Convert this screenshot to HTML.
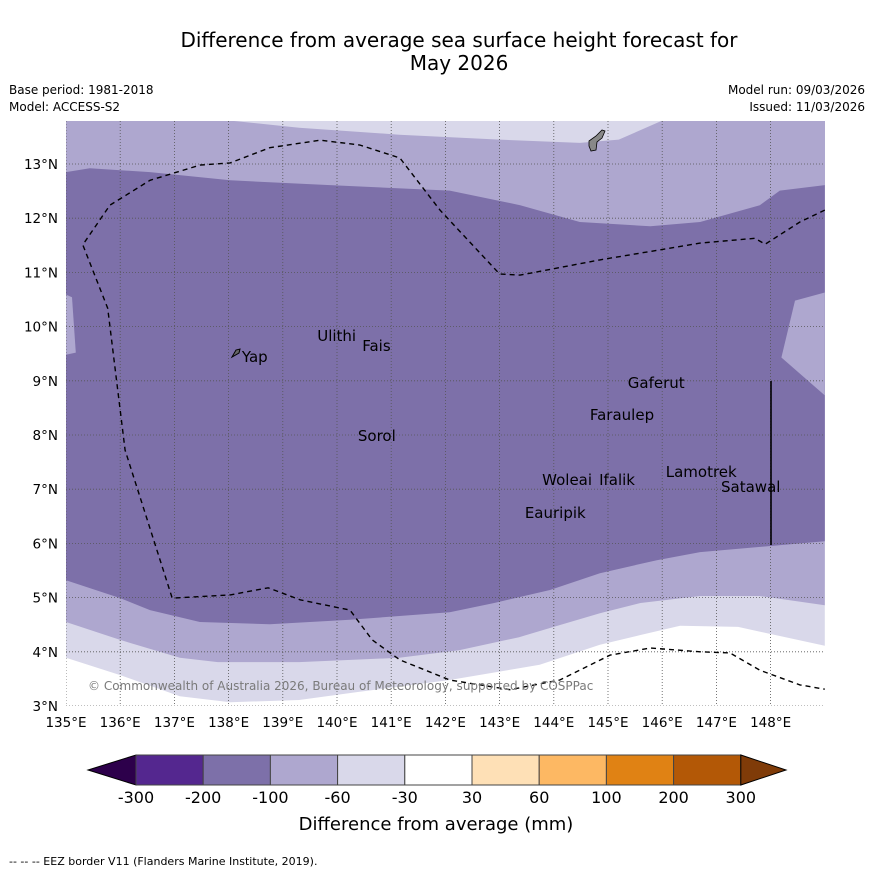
<!DOCTYPE html>
<html><head><meta charset="utf-8"><style>
body{margin:0;background:#fff;}
svg{display:block;font-family:"DejaVu Sans","Liberation Sans",sans-serif;}
</style></head><body>
<svg id="chart" width="873" height="873" viewBox="0 0 873 873" xmlns="http://www.w3.org/2000/svg">
<rect width="873" height="873" fill="#fff"/>
<text x="459" y="47" font-size="20" text-anchor="middle">Difference from average sea surface height forecast for</text>
<text x="459" y="70" font-size="20" text-anchor="middle">May 2026</text>
<text x="9" y="94" font-size="12">Base period: 1981-2018</text>
<text x="9" y="111" font-size="12">Model: ACCESS-S2</text>
<text x="865" y="94" font-size="12" text-anchor="end">Model run: 09/03/2026</text>
<text x="865" y="111" font-size="12" text-anchor="end">Issued: 11/03/2026</text>
<defs><clipPath id="mapclip"><rect x="66" y="121" width="759" height="585"/></clipPath></defs>
<g id="map" clip-path="url(#mapclip)"></g>
<g id="axes"></g>
<g id="cbar"></g>
<text x="436" y="830" font-size="18" text-anchor="middle">Difference from average (mm)</text>
<text x="9" y="865" font-size="11">--  --  -- EEZ border V11 (Flanders Marine Institute, 2019).</text>
</svg>
<script>
// Contour boundary data (lon, lat)
const topLightLon=[138.03,139.3,141.15,143.0,144.48,145.2,146.0];
const topLightLat=[13.8,13.67,13.54,13.45,13.39,13.45,13.8];
const darkTopLon=[135,135.44,136.55,138.03,139.87,142.08,143.38,144.48,145.78,146.7,147.8,148.17,149];
const darkTopLat=[12.85,12.92,12.85,12.70,12.61,12.51,12.24,11.93,11.85,11.93,12.24,12.51,12.61];
const darkBotLon=[135,136,136.55,137.47,138.76,140.24,142.08,142.9,143.93,144.85,145.9,146.7,149];
const darkBotLat=[5.32,4.99,4.77,4.55,4.51,4.59,4.73,4.9,5.14,5.45,5.69,5.84,6.04];
const midBotLon=[135,136,137.1,137.8,139.3,141.15,142.25,143.36,144.1,144.85,145.6,146.7,147.8,149];
const midBotLat=[4.55,4.22,3.89,3.81,3.81,3.89,4.03,4.27,4.49,4.71,4.9,5.03,5.03,4.86];
const lightBotLon=[135,136,137.1,138.03,139.3,140.4,142.08,143.74,144.85,145.6,146.33,147.4,149];
const lightBotLat=[3.89,3.57,3.18,3.07,3.11,3.26,3.48,3.76,4.13,4.31,4.48,4.46,4.11];
const rightBumpLon=[149,148.45,148.2,149];
const rightBumpLat=[10.63,10.48,9.43,8.73];
const leftStripLon=[135,135.11,135.18,135];
const leftStripLat=[10.59,10.54,9.52,9.48];
const eezLon=[149,148.54,147.9,147.71,146.7,144.85,143.38,143.0,141.9,141.16,140.42,139.69,138.76,138.03,137.47,136.55,135.81,135.31,135.77,136.09,136.96,138.03,138.73,139.32,140.24,140.65,141.16,142.08,143.19,144.11,145.04,145.78,146.7,147.25,147.8,148.54,149];
const eezLat=[12.15,11.93,11.52,11.63,11.54,11.23,10.95,10.97,12.15,13.11,13.35,13.44,13.30,13.02,12.98,12.70,12.24,11.51,10.34,7.72,4.99,5.05,5.18,4.96,4.77,4.22,3.85,3.48,3.30,3.48,3.94,4.07,4.0,3.98,3.66,3.39,3.31];
const lonTicks=[135,136,137,138,139,140,141,142,143,144,145,146,147,148];
const latTicks=[3,4,5,6,7,8,9,10,11,12,13];
const islandNames=["Yap","Ulithi","Fais","Sorol","Gaferut","Faraulep","Woleai","Ifalik","Lamotrek","Satawal","Eauripik"];
const islandLon=[138.19,139.58,140.41,140.33,145.31,144.61,143.73,144.78,146.01,147.03,143.41];
const islandLat=[9.44,9.83,9.64,7.98,8.96,8.37,7.17,7.17,7.32,7.04,6.56];
const cbarLabels=["-300","-200","-100","-60","-30","30","60","100","200","300"];
const cbarColors=["#54278f","#7d70a9","#aea7cf","#d9d8ea","#ffffff","#fee0b6","#fdb863","#e08214","#b35806"];

const NS="http://www.w3.org/2000/svg";
const X=lon=>66+(lon-135)*54.2;
const Y=lat=>706-(lat-3)*54.2;
function mk(tag,attrs,parent){const e=document.createElementNS(NS,tag);for(const k in attrs)e.setAttribute(k,attrs[k]);parent.appendChild(e);return e;}
function pts(lo,la){return lo.map((v,i)=>X(v).toFixed(1)+","+Y(la[i]).toFixed(1));}
const map=document.getElementById('map');
let r=mk('rect',{x:66,y:121,width:759,height:585,fill:'#ffffff'},map);


let p=mk('polygon',{points:[...pts(lightBotLon,lightBotLat),"825,121","66,121"].join(" "),fill:'#d9d8ea'},map);


p=mk('polygon',{points:[...pts(midBotLon,midBotLat),"825,121","66,121"].join(" "),fill:'#aea7cf'},map);


p=mk('polygon',{points:[...pts(darkBotLon,darkBotLat),...pts(darkTopLon,darkTopLat).reverse()].join(" "),fill:'#7d70a9'},map);


p=mk('polygon',{points:pts(rightBumpLon,rightBumpLat).join(" "),fill:'#aea7cf'},map);


p=mk('polygon',{points:pts(leftStripLon,leftStripLat).join(" "),fill:'#aea7cf'},map);


p=mk('polygon',{points:pts(topLightLon,topLightLat).join(" "),fill:'#d9d8ea'},map);


lonTicks.forEach(v=>{const l=mk('line',{x1:X(v),x2:X(v),y1:121,y2:706,stroke:'#555',"stroke-width":0.8,"stroke-dasharray":"1,2"},map);

});
latTicks.forEach(v=>{const l=mk('line',{x1:66,x2:825,y1:Y(v),y2:Y(v),stroke:'#555',"stroke-width":0.8,"stroke-dasharray":"1,2"},map);

});
p=mk('polyline',{points:pts(eezLon,eezLat).join(" "),fill:'none',stroke:'#000',"stroke-width":1.4,"stroke-dasharray":"5,4"},map);


p=mk('line',{x1:771,x2:771,y1:381,y2:545,stroke:'#000',"stroke-width":1.6},map);


p=mk('path',{d:"M589,141 L596,136 L602,130 L605,131 L602,138 L597,142 L596,150 L591,151 L589,146 Z",fill:'#888',stroke:'#000',"stroke-width":0.8},map);


p=mk('path',{d:"M232,357 L236,350 L240,349 L239,353 Z",fill:'#666',stroke:'#000',"stroke-width":1},map);


islandNames.forEach((n,i)=>{const t=mk('text',{x:X(islandLon[i])+3,y:Y(islandLat[i])+5,"font-size":15},map);t.textContent=n;

});
let c=mk('text',{x:88,y:690,"font-size":12,fill:'#7a7a7a'},map);
c.textContent="© Commonwealth of Australia 2026, Bureau of Meteorology, supported by COSPPac";


const ax=document.getElementById('axes');
lonTicks.forEach(v=>{const t=mk('text',{x:X(v),y:727,"font-size":13.5,"text-anchor":"middle"},ax);t.textContent=v+"°E";

});
latTicks.forEach(v=>{const t=mk('text',{x:58,y:Y(v)+5,"font-size":13.5,"text-anchor":"end"},ax);t.textContent=v+"°N";

});
const cb=document.getElementById('cbar');
const x0=136,w=67.2,y0=755,h=30;
p=mk('polygon',{points:`${x0},${y0} ${x0},${y0+h} 88,${y0+h/2}`,fill:'#2d004b',stroke:'#000'},cb);


cbarColors.forEach((col,i)=>{const b=mk('rect',{x:x0+i*w,y:y0,width:w,height:h,fill:col,stroke:'#444',"stroke-width":1},cb);

});
const xe=x0+cbarColors.length*w;
p=mk('polygon',{points:`${xe},${y0} ${xe},${y0+h} 786,${y0+h/2}`,fill:'#7f3b08',stroke:'#000'},cb);


cbarLabels.forEach((l,i)=>{const t=mk('text',{x:x0+i*w,y:803,"font-size":16,"text-anchor":"middle"},cb);t.textContent=l;

});
</script>
</body></html>
